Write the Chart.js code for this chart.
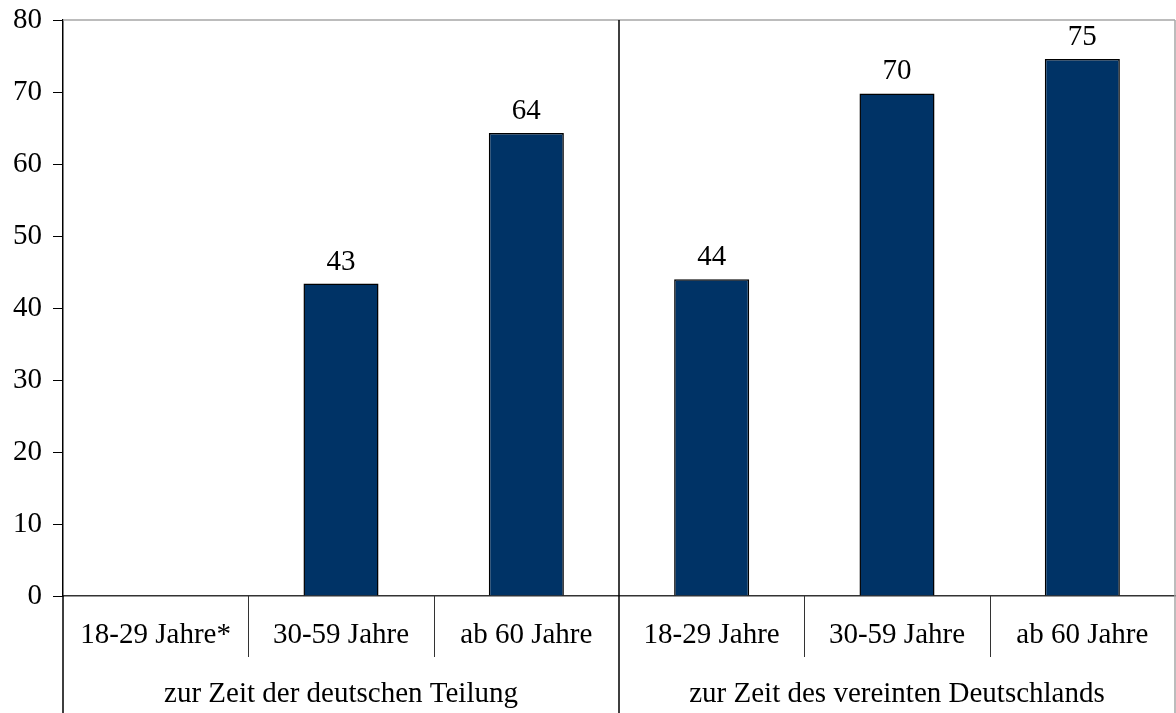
<!DOCTYPE html>
<html>
<head>
<meta charset="utf-8">
<script src="https://cdn.jsdelivr.net/npm/chart.js@4.4.0/dist/chart.umd.min.js"></script>
<style>
  html, body { margin: 0; padding: 0; background: #fff; }
  #wrap { width: 1176px; height: 713px; }
</style>
</head>
<body>
<div id="wrap"><canvas id="chart" width="1176" height="713"></canvas></div>
<script>
// Data
const categories = ['18-29 Jahre*', '30-59 Jahre', 'ab 60 Jahre', '18-29 Jahre', '30-59 Jahre', 'ab 60 Jahre'];
const groups = ['zur Zeit der deutschen Teilung', 'zur Zeit des vereinten Deutschlands'];
const values = [null, 43.4, 64.3, 44.0, 69.8, 74.6];
const yTicks = [0, 10, 20, 30, 40, 50, 60, 70, 80];

const FONT = { family: '"Liberation Serif", "Times New Roman", serif', size: 29 };

// Draws the frame, category separators and value labels
const decorPlugin = {
    id: 'decor',
    afterDraw(chart) {
        const ctx = chart.ctx;
        const area = chart.chartArea;
        const bottom = chart.height;
        const step = (area.right - area.left) / categories.length;
        ctx.save();

        // light grey top and right frame
        ctx.strokeStyle = '#a6a6a6';
        ctx.lineWidth = 1.5;
        ctx.beginPath();
        ctx.moveTo(area.left, area.top);
        ctx.lineTo(area.right, area.top);
        ctx.moveTo(area.right, area.top);
        ctx.lineTo(area.right, bottom);
        ctx.stroke();

        // left axis continues down through the label rows
        ctx.strokeStyle = '#000';
        ctx.lineWidth = 1.5;
        ctx.beginPath();
        ctx.moveTo(area.left, area.bottom);
        ctx.lineTo(area.left, bottom);
        // group separator across the whole height
        const mid = area.left + step * 3;
        ctx.moveTo(mid, area.top);
        ctx.lineTo(mid, bottom);
        ctx.stroke();

        // short separators between categories
        ctx.strokeStyle = '#333';
        ctx.lineWidth = 1;
        ctx.beginPath();
        [1, 2, 4, 5].forEach(i => {
            const px = Math.round(area.left + step * i) + 0.5;
            ctx.moveTo(px, area.bottom);
            ctx.lineTo(px, area.bottom + 61);
        });
        ctx.stroke();

        // value labels
        ctx.fillStyle = '#000';
        ctx.font = FONT.size + 'px ' + FONT.family;
        ctx.textAlign = 'center';
        ctx.textBaseline = 'alphabetic';
        const meta = chart.getDatasetMeta(0);
        meta.data.forEach((bar, i) => {
            if (values[i] == null) return;
            ctx.fillText(Math.round(values[i]), bar.x, bar.y - 14);
        });
        ctx.restore();
    }
};

new Chart(document.getElementById('chart').getContext('2d'), {
    type: 'bar',
    data: {
        labels: categories,
        datasets: [{
            data: values,
            backgroundColor: '#003366',
            borderColor: '#000',
            borderWidth: 1.5,
            categoryPercentage: 1,
            barPercentage: 0.405
        }]
    },
    options: {
        responsive: false,
        animation: false,
        layout: { padding: { top: 20, right: 1, left: 0, bottom: 0 } },
        plugins: {
            legend: { display: false },
            tooltip: { enabled: false }
        },
        scales: {
            x: {
                position: 'bottom',
                offset: true,
                grid: { display: false },
                border: { display: true, color: '#333', width: 1.5 },
                ticks: { color: '#000', font: FONT, padding: 14, maxRotation: 0, autoSkip: false },
                afterFit(scale) { scale.height = 61; scale.paddingLeft = 0; scale.paddingRight = 0; }
            },
            x2: {
                type: 'category',
                position: 'bottom',
                labels: groups,
                offset: true,
                grid: { display: false },
                border: { display: false },
                ticks: { color: '#000', font: FONT, padding: 12, maxRotation: 0, autoSkip: false },
                afterFit(scale) { scale.height = 56; scale.paddingLeft = 0; scale.paddingRight = 0; }
            },
            y: {
                min: 0,
                max: 80,
                afterBuildTicks(scale) { scale.ticks = yTicks.map(v => ({ value: v })); },
                grid: { display: true, drawOnChartArea: false, drawTicks: true, tickLength: 10, color: '#000' },
                border: { display: true, color: '#000', width: 1.5 },
                ticks: { color: '#000', font: FONT, padding: 11 },
                afterFit(scale) { scale.width = 63; scale.paddingTop = 0; scale.paddingBottom = 0; }
            }
        }
    },
    plugins: [decorPlugin]
});
</script>
</body>
</html>
